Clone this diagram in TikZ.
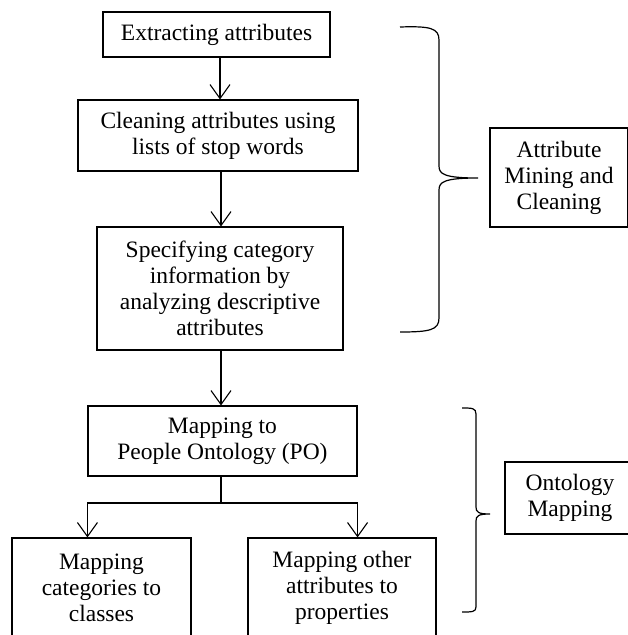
\documentclass[tikz,border=0pt]{standalone}
\usepackage{fontspec}
\setmainfont{Liberation Serif}
\usetikzlibrary{arrows.meta}
\begin{document}
\begin{tikzpicture}[x=1pt,y=-1pt,
  box/.style={draw, line width=1.1pt, align=center, inner sep=0pt,
    font=\fontsize{23.5}{26}\selectfont},
  arr/.style={line width=1.1pt, -{Straight Barb[length=14pt,width=20pt,line width=1.1pt]}},
  brace/.style={line width=1.2pt}]
\useasboundingbox (0,0) rectangle (628,635);
\node[box, minimum width=227pt, minimum height=45pt] (b1) at (216.5,34.5) {Extracting attributes};
\node[box, minimum width=280pt, minimum height=71pt] (b2) at (218,135.5) {Cleaning attributes using\\lists of stop words};
\node[box, minimum width=246pt, minimum height=123pt] (b3) at (220,288.5) {Specifying category\\information by\\analyzing descriptive\\attributes};
\node[box, minimum width=269pt, minimum height=70pt] (b4) at (222.5,441) {Mapping to\\People Ontology (PO)};
\node[box, minimum width=179pt, minimum height=100pt] (b5) at (101.5,588) {Mapping\\categories to\\classes};
\node[box, minimum width=188pt, minimum height=100pt] (b6) at (342,588) {Mapping other\\attributes to\\properties};
\node[box, minimum width=138pt, minimum height=99pt] (b7) at (559,177.5) {Attribute\\Mining and\\Cleaning};
\node[box, minimum width=130pt, minimum height=72pt] (b8) at (570,498) {Ontology\\Mapping};
\draw[arr] (b1.south -| 220,0) -- (b2.north -| 220,0);
\draw[arr] (b2.south -| 221,0) -- (b3.north -| 221,0);
\draw[arr] (b3.south -| 221,0) -- (b4.north -| 221,0);
\draw[line width=1.1pt] (b4.south -| 221,0) -- (221,503) coordinate (j);
\draw[arr] (j) -| (b5.north -| b4.west);
\draw[arr] (j) -| (b6.north -| b4.east);
% brace 1
\draw[brace] (400,27) .. controls (430,26) and (439,28) .. (439,40) -- (439,166)
  .. controls (439,174) and (444,178) .. (478,178)
  .. controls (444,178) and (439,182) .. (439,190) -- (439,318)
  .. controls (439,330) and (430,332) .. (400,332);
% brace 2
\draw[brace] (462,408) .. controls (472,408) and (476,408) .. (476,414) -- (476,507)
  .. controls (476,512) and (478,514) .. (490,514)
  .. controls (478,514) and (476,516) .. (476,521) -- (476,607)
  .. controls (476,612) and (472,612) .. (462,612);
\end{tikzpicture}
\end{document}
